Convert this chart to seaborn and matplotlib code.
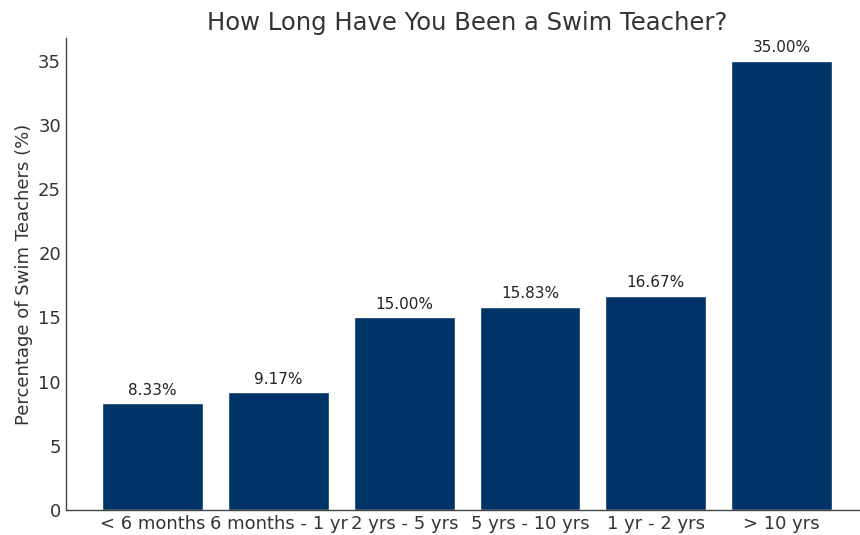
import matplotlib
matplotlib.use("Agg")
import matplotlib.pyplot as plt
import pandas as pd
import seaborn as sns

# Survey data
categories = ["< 6 months", "6 months - 1 yr", "2 yrs - 5 yrs", "5 yrs - 10 yrs", "1 yr - 2 yrs", "> 10 yrs"]
percentages = [8.33, 9.17, 15.00, 15.83, 16.67, 35.00]

df = pd.DataFrame({"experience": categories, "pct": percentages})

sns.set_style("white")
plt.rcParams["font.family"] = ["DejaVu Sans"]
text_color = "#333333"

fig = plt.figure(figsize=(8.6, 5.35), dpi=100)
ax = fig.add_axes([0.0767, 0.0467, 0.933, 0.882])

sns.barplot(data=df, x="experience", y="pct", color="#003366",
            saturation=1, width=0.8, ax=ax)

# value labels on top of each bar
for p, v in zip(ax.patches, percentages):
    ax.annotate(f"{v:.2f}%", (p.get_x() + p.get_width() / 2, p.get_height()),
                xytext=(0, 4), textcoords="offset points",
                ha="center", va="bottom", fontsize=11, color="#222222")

ax.set_xlim(-0.69, 5.69)
ax.set_ylim(0, 36.75)
ax.set_yticks([0, 5, 10, 15, 20, 25, 30, 35])
ax.set_title("How Long Have You Been a Swim Teacher?", fontsize=17.5,
             color=text_color, pad=6)
ax.set_xlabel("")
ax.set_ylabel("Percentage of Swim Teachers (%)", fontsize=13, color=text_color)
ax.tick_params(axis="both", direction="in", labelsize=13, colors=text_color,
               length=4, width=1)
for lab in ax.get_xticklabels() + ax.get_yticklabels():
    lab.set_color(text_color)

sns.despine(ax=ax)
for s in ("left", "bottom"):
    ax.spines[s].set_color("#444444")
    ax.spines[s].set_linewidth(1)

fig.savefig("out.png", dpi=100)
